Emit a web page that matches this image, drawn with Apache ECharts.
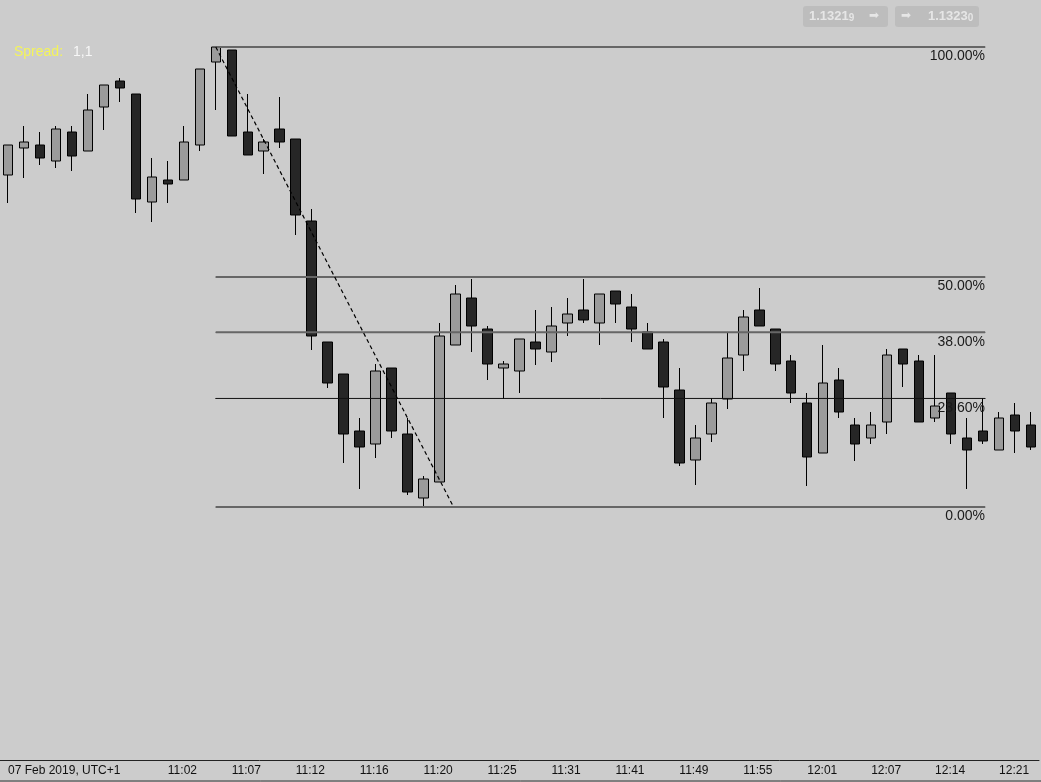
<!DOCTYPE html>
<html>
<head>
<meta charset="utf-8">
<script src="https://cdn.jsdelivr.net/npm/echarts@6/dist/echarts.min.js"></script>
<style>
  html, body { margin: 0; padding: 0; background: #cccccc; }
  #main { width: 1041px; height: 782px; }
</style>
</head>
<body>
<div id="main"></div>
<script>
// EURUSD-style candles
const opens  = [1.13492,1.13519,1.13522,1.13506,1.13535,1.13516,1.13560,1.13586,1.13573,1.13465,
                1.13487,1.13487,1.13522,1.13605,1.13617,1.13535,1.13516,1.13538,1.13528,1.13446,
                1.13325,1.13293,1.13236,1.13223,1.13299,1.13233,1.13169,1.13185,1.13322,1.13369,
                1.13338,1.13299,1.13296,1.13325,1.13315,1.13344,1.13357,1.13344,1.13376,1.13360,
                1.13335,1.13325,1.13277,1.13207,1.13233,1.13268,1.13312,1.13357,1.13338,1.13306,
                1.13264,1.13214,1.13287,1.13242,1.13229,1.13245,1.13318,1.13306,1.13249,1.13274,
                1.13229,1.13236,1.13217,1.13252,1.13242]
const highs  = [1.13522,1.13541,1.13535,1.13541,1.13541,1.13573,1.13582,1.13589,1.13573,1.13509,
                1.13506,1.13541,1.13598,1.13620,1.13617,1.13573,1.13528,1.13570,1.13528,1.13458,
                1.13325,1.13293,1.13249,1.13303,1.13299,1.13249,1.13191,1.13344,1.13382,1.13388,
                1.13341,1.13306,1.13328,1.13357,1.13360,1.13369,1.13388,1.13373,1.13376,1.13373,
                1.13344,1.13328,1.13299,1.13242,1.13269,1.13335,1.13357,1.13379,1.13338,1.13312,
                1.13274,1.13322,1.13299,1.13249,1.13255,1.13318,1.13318,1.13312,1.13312,1.13274,
                1.13249,1.13269,1.13255,1.13264,1.13255]
const lows   = [1.13464,1.13489,1.13502,1.13499,1.13496,1.13516,1.13537,1.13565,1.13454,1.13445,
                1.13464,1.13487,1.13516,1.13557,1.13531,1.13512,1.13493,1.13519,1.13432,1.13317,
                1.13279,1.13204,1.13178,1.13209,1.13229,1.13172,1.13160,1.13185,1.13322,1.13315,
                1.13287,1.13268,1.13274,1.13302,1.13305,1.13331,1.13344,1.13322,1.13344,1.13325,
                1.13318,1.13249,1.13201,1.13182,1.13225,1.13258,1.13296,1.13341,1.13296,1.13264,
                1.13181,1.13214,1.13249,1.13206,1.13223,1.13233,1.13280,1.13245,1.13245,1.13223,
                1.13178,1.13223,1.13217,1.13214,1.13217]
const closes = [1.13522,1.13525,1.13509,1.13538,1.13511,1.13557,1.13582,1.13579,1.13468,1.13490,
                1.13483,1.13525,1.13598,1.13620,1.13531,1.13512,1.13525,1.13525,1.13452,1.13331,
                1.13284,1.13233,1.13220,1.13296,1.13236,1.13175,1.13188,1.13331,1.13373,1.13341,
                1.13303,1.13303,1.13328,1.13318,1.13341,1.13353,1.13347,1.13373,1.13363,1.13338,
                1.13318,1.13280,1.13204,1.13229,1.13264,1.13309,1.13350,1.13341,1.13303,1.13274,
                1.13210,1.13284,1.13255,1.13223,1.13242,1.13312,1.13303,1.13245,1.13261,1.13233,
                1.13217,1.13226,1.13249,1.13236,1.13220]

const dateLabel  = '07 Feb 2019, UTC+1'
const timeLabels = ['11:02','11:07','11:12','11:16','11:20','11:25','11:31',
                    '11:41','11:49','11:55','12:01','12:07','12:14','12:21']
const firstTick = 10, tickStep = 4

// fibonacci retracement drawn from the swing high to the swing low
const fibLevels = [1, 0.5, 0.38, 0.236, 0]
const fibLabels = ['100.00%', '50.00%', '38.00%', '23.60%', '0.00%']
const swingHigh = 1.13620, swingLow = 1.13160
const swingStart = 13, fibEnd = 61.125, trendEnd = 27.875

const bidPrice = ['1.1321', '9'], askPrice = ['1.1323', '0']
const spread = '1,1'

const FONT = 'Liberation Sans, Arial, sans-serif'
const candles = opens.map((o, i) => [o, closes[i], lows[i], highs[i]])
const showTick = i => i === 0 || (i >= firstTick && (i - firstTick) % tickStep === 0)

const fibSeries = fibLevels.map((lv, k) => {
  const p = swingLow + (swingHigh - swingLow) * lv
  const thin = lv === 0.236
  return {
    type: 'line', xAxisIndex: 1, yAxisIndex: 0, z: 5,
    symbol: 'circle', symbolSize: 1, silent: true,
    lineStyle: { color: thin ? '#111' : '#666', width: thin ? 1 : 2 },
    itemStyle: { color: thin ? '#111' : '#666' },
    data: [
      [swingStart, p],
      { value: [fibEnd, p],
        label: { show: true, formatter: fibLabels[k], position: 'bottom', align: 'right',
          distance: 2, color: '#1a1a1a', fontSize: 14, fontFamily: FONT } },
    ],
  }
})

const chart = echarts.init(document.getElementById('main'), null, { renderer: 'canvas' })
chart.setOption({
  animation: false,
  backgroundColor: '#cccccc',
  grid: { left: -1, right: 2, top: 0, bottom: 22 },
  title: {
    text: '{a|Spread:}  {b|' + spread + '}', left: 9, top: 38,
    textStyle: { fontWeight: 'normal', rich: {
      a: { color: '#f4f45a', fontSize: 14, fontWeight: 'normal', fontFamily: FONT },
      b: { color: '#f7f7f7', fontSize: 14, fontWeight: 'normal', fontFamily: FONT },
    } },
  },
  xAxis: [
    { type: 'category', data: opens.map((_, i) => i), boundaryGap: true,
      axisLine: { lineStyle: { color: '#222', width: 1 } },
      axisTick: { alignWithLabel: true, interval: showTick, length: 3, lineStyle: { color: '#222' } },
      axisLabel: { interval: showTick, align: 'left', margin: 5, color: '#111', fontSize: 12, fontFamily: FONT,
        formatter: (v, i) => i === 0 ? dateLabel : timeLabels[(i - firstTick) / tickStep] },
      splitLine: { show: false } },
    { type: 'value', min: -0.5, max: opens.length - 0.5, show: false, gridIndex: 0 },
  ],
  yAxis: { type: 'value', min: 1.12907, max: 1.13667, show: false, splitLine: { show: false } },
  series: [
    { type: 'candlestick', data: candles, barWidth: 10, z: 2,
      itemStyle: { color: '#9b9b9b', color0: '#262626', borderColor: '#000', borderColor0: '#000', borderWidth: 1 } },
    ...fibSeries,
    { type: 'line', xAxisIndex: 1, yAxisIndex: 0, z: 6, symbol: 'none', silent: true,
      lineStyle: { color: '#000', width: 1.2, type: [4, 3] },
      data: [[swingStart, swingHigh], [trendEnd, swingLow]] },
  ],
  graphic: [
    { type: 'line', shape: { x1: 0, y1: 781, x2: 1041, y2: 781 }, style: { stroke: '#333', lineWidth: 1 } },
    { type: 'group', left: 803, top: 6, children: [
      { type: 'rect', shape: { x: 0, y: 0, width: 85, height: 21, r: 3 }, style: { fill: '#bdbdbd' } },
      { type: 'text', x: 6, y: 4, style: { text: '{p|' + bidPrice[0] + '}{s|' + bidPrice[1] + '}',
        rich: { p: { fill: '#e6e6e6', fontSize: 13, fontWeight: 'bold', fontFamily: FONT },
                s: { fill: '#e6e6e6', fontSize: 10, fontWeight: 'bold', fontFamily: FONT, padding: [3, 0, 0, 0] } } } },
      { type: 'text', x: 66, y: 4, style: { text: '➡', fill: '#e6e6e6', fontSize: 12, fontFamily: 'DejaVu Sans' } },
    ] },
    { type: 'group', left: 895, top: 6, children: [
      { type: 'rect', shape: { x: 0, y: 0, width: 84, height: 21, r: 3 }, style: { fill: '#bdbdbd' } },
      { type: 'text', x: 6, y: 4, style: { text: '➡', fill: '#e6e6e6', fontSize: 12, fontFamily: 'DejaVu Sans' } },
      { type: 'text', x: 33, y: 4, style: { text: '{p|' + askPrice[0] + '}{s|' + askPrice[1] + '}',
        rich: { p: { fill: '#e6e6e6', fontSize: 13, fontWeight: 'bold', fontFamily: FONT },
                s: { fill: '#e6e6e6', fontSize: 10, fontWeight: 'bold', fontFamily: FONT, padding: [3, 0, 0, 0] } } } },
    ] },
  ],
})
window.addEventListener('resize', () => chart.resize())
</script>
</body>
</html>
